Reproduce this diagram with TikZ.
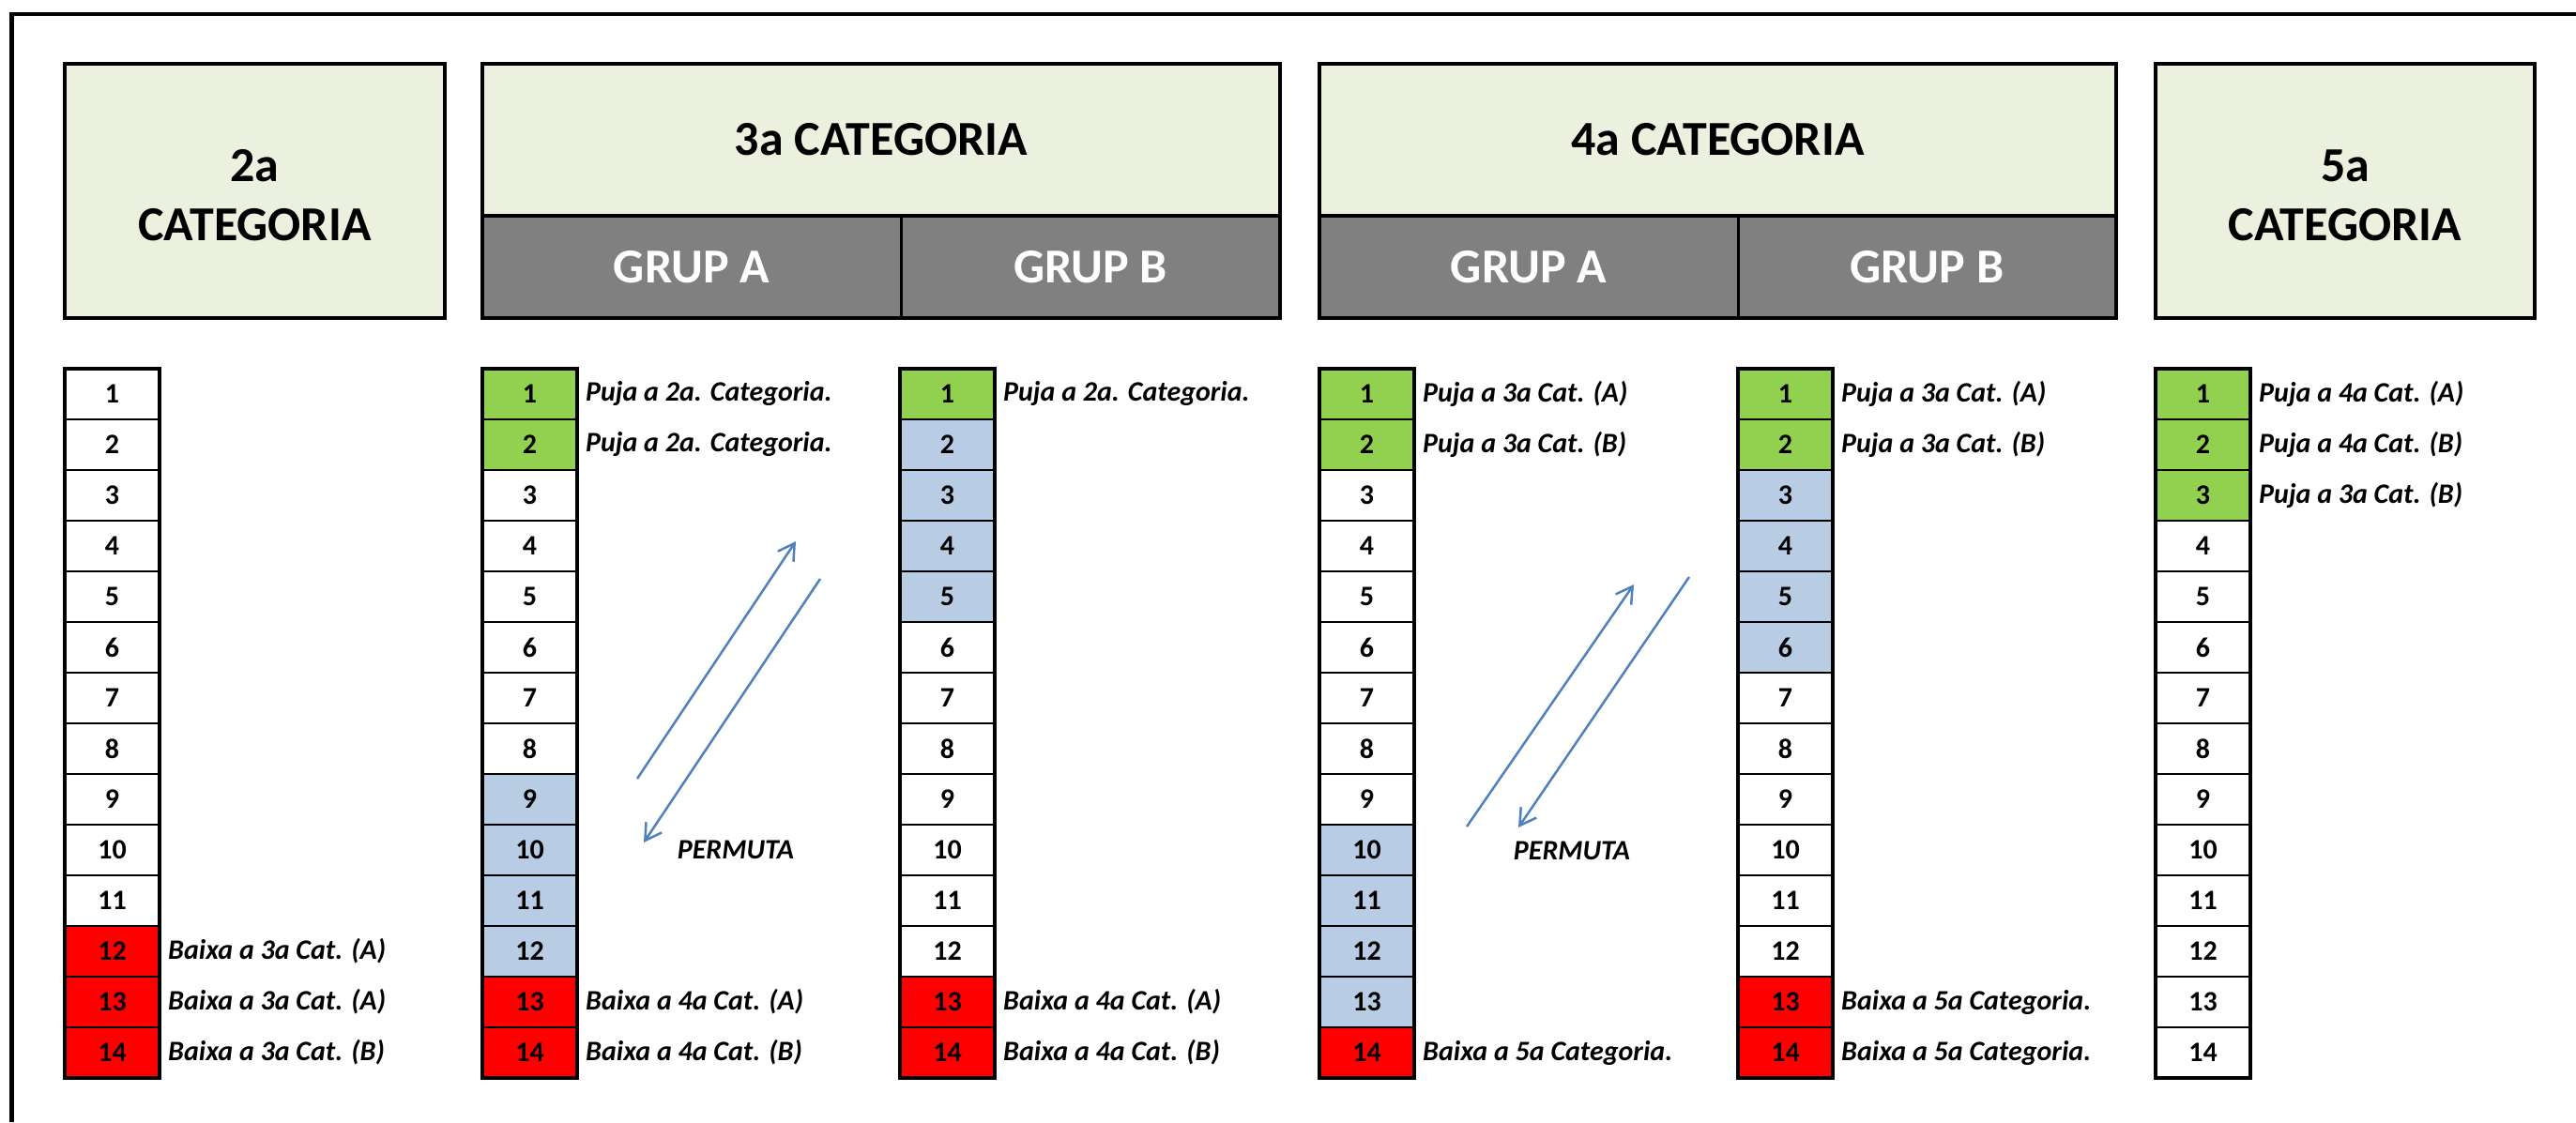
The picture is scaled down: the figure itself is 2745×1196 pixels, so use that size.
\documentclass[tikz,border=0pt]{standalone}
\usepackage{fontspec}
\setmainfont{Carlito}
\usetikzlibrary{arrows.meta}
\definecolor{hdr}{HTML}{EBF1DE}
\definecolor{grp}{HTML}{808080}
\definecolor{up}{HTML}{92D050}
\definecolor{perm}{HTML}{B8CCE4}
\definecolor{down}{HTML}{FF0000}
\definecolor{arr}{HTML}{4F81BD}
\newcommand\drawcol[3]{%
  \foreach \c [count=\i] in {#3} {%
    \node[cell,fill=\c] (#1-\i) at ({#2+50.5},{366+54*\i}) {\i};}
  \draw[colframe] (#1-1.north west) rectangle (#1-14.south east);
}
\begin{document}
\begin{tikzpicture}[x=1pt,y=-1pt,
  cell/.style={draw=black, line width=2.5pt, minimum width=101pt, minimum height=54pt,
    inner sep=0pt, outer sep=0pt, font=\fontsize{30}{36}\selectfont\bfseries},
  colframe/.style={draw=black, line width=4.5pt},
  lbl/.style={anchor=west, inner sep=0pt, font=\fontsize{30}{36}\selectfont\bfseries\itshape},
  hdrbox/.style={draw=black, fill=hdr, line width=4.5pt, inner sep=0pt, outer sep=0pt,
    font=\fontsize{52}{63}\selectfont\bfseries, align=center},
  hdrtext/.style={inner sep=0pt, font=\fontsize{52}{63}\selectfont\bfseries, align=center},
  grpbox/.style={draw=black, fill=grp, line width=3pt, inner sep=0pt, outer sep=0pt,
    text=white, font=\fontsize{52}{63}\selectfont\bfseries, minimum height=109pt},
  swaparrow/.style={draw=arr, line width=2.5pt, -{Straight Barb[length=17pt,width=20pt]}},
]
\useasboundingbox (0,0) rectangle (2745,1196);
\fill[white] (0,0) rectangle (2745,1196);
% outer frame (continues beyond the picture)
\draw[line width=4.5pt] (12.5,1196) -- (12.5,15) -- (2745,15);

% headers
\node[hdrbox, minimum width=405pt, minimum height=271pt] (h2) at (271.5,203.5) {};
\node[hdrtext] (h2t) at ([yshift=-5pt]h2.center) {2a\\CATEGORIA};

\node[hdrbox, minimum width=850pt, minimum height=162pt] (h3) at (939,149) {3a CATEGORIA};
\node[grpbox, minimum width=446pt] (h3A) at (737,284.5) {GRUP A};
\node[grpbox, minimum width=404pt] (h3B) at (1162,284.5) {GRUP B};
\draw[line width=4.5pt] (h3.north west) rectangle (h3B.south east);
\draw[line width=4.5pt] (h3.south west) -- (h3.south east);

\node[hdrbox, minimum width=849pt, minimum height=162pt] (h4) at (1830.5,149) {4a CATEGORIA};
\node[grpbox, minimum width=446pt] (h4A) at (1629,284.5) {GRUP A};
\node[grpbox, minimum width=403pt] (h4B) at (2053.5,284.5) {GRUP B};
\draw[line width=4.5pt] (h4.north west) rectangle (h4B.south east);
\draw[line width=4.5pt] (h4.south west) -- (h4.south east);

\node[hdrbox, minimum width=404pt, minimum height=271pt] (h5) at (2499,203.5) {};
\node[hdrtext] (h5t) at ([yshift=-5pt]h5.center) {5a\\CATEGORIA};

% columns
\drawcol{k2}{69}{white,white,white,white,white,white,white,white,white,white,white,down,down,down}
\drawcol{k3A}{514}{up,up,white,white,white,white,white,white,perm,perm,perm,perm,down,down}
\drawcol{k3B}{959}{up,perm,perm,perm,perm,white,white,white,white,white,white,white,down,down}
\drawcol{k4A}{1406}{up,up,white,white,white,white,white,white,white,perm,perm,perm,perm,down}
\drawcol{k4B}{1852}{up,up,perm,perm,perm,perm,white,white,white,white,white,white,down,down}
\drawcol{k5}{2297}{up,up,up,white,white,white,white,white,white,white,white,white,white,white}

% labels
\node[lbl] (l2-12) at ([xshift=9pt]k2-12.east) {Baixa a 3a Cat. (A)};
\node[lbl] (l2-13) at ([xshift=9pt]k2-13.east) {Baixa a 3a Cat. (A)};
\node[lbl] (l2-14) at ([xshift=9pt]k2-14.east) {Baixa a 3a Cat. (B)};

\node[lbl] (l3A-1) at ([xshift=9pt]k3A-1.east) {Puja a 2a. Categoria.};
\node[lbl] (l3A-2) at ([xshift=9pt]k3A-2.east) {Puja a 2a. Categoria.};
\node[lbl] (l3A-13) at ([xshift=9pt]k3A-13.east) {Baixa a 4a Cat. (A)};
\node[lbl] (l3A-14) at ([xshift=9pt]k3A-14.east) {Baixa a 4a Cat. (B)};

\node[lbl] (l3B-1) at ([xshift=9pt]k3B-1.east) {Puja a 2a. Categoria.};
\node[lbl] (l3B-13) at ([xshift=9pt]k3B-13.east) {Baixa a 4a Cat. (A)};
\node[lbl] (l3B-14) at ([xshift=9pt]k3B-14.east) {Baixa a 4a Cat. (B)};

\node[lbl] (l4A-1) at ([xshift=9pt]k4A-1.east) {Puja a 3a Cat. (A)};
\node[lbl] (l4A-2) at ([xshift=9pt]k4A-2.east) {Puja a 3a Cat. (B)};
\node[lbl] (l4A-14) at ([xshift=9pt]k4A-14.east) {Baixa a 5a Categoria.};

\node[lbl] (l4B-1) at ([xshift=9pt]k4B-1.east) {Puja a 3a Cat. (A)};
\node[lbl] (l4B-2) at ([xshift=9pt]k4B-2.east) {Puja a 3a Cat. (B)};
\node[lbl] (l4B-13) at ([xshift=9pt]k4B-13.east) {Baixa a 5a Categoria.};
\node[lbl] (l4B-14) at ([xshift=9pt]k4B-14.east) {Baixa a 5a Categoria.};

\node[lbl] (l5-1) at ([xshift=9pt]k5-1.east) {Puja a 4a Cat. (A)};
\node[lbl] (l5-2) at ([xshift=9pt]k5-2.east) {Puja a 4a Cat. (B)};
\node[lbl] (l5-3) at ([xshift=9pt]k5-3.east) {Puja a 3a Cat. (B)};

% permuta arrows
\coordinate (p3us) at (679,830);
\coordinate (p3ue) at (848,577);
\coordinate (p3ds) at (874,617);
\coordinate (p3de) at (686,898);
\draw[swaparrow] (p3us) -- (p3ue);
\draw[swaparrow] (p3ds) -- (p3de);
\node[lbl, anchor=center] (perm3) at (784,906) {PERMUTA};

\coordinate (p4us) at (1563,881);
\coordinate (p4ue) at (1741,623);
\coordinate (p4ds) at (1800,615);
\coordinate (p4de) at (1618,882);
\draw[swaparrow] (p4us) -- (p4ue);
\draw[swaparrow] (p4ds) -- (p4de);
\node[lbl, anchor=center] (perm4) at (1675,907) {PERMUTA};
\end{tikzpicture}
\end{document}
